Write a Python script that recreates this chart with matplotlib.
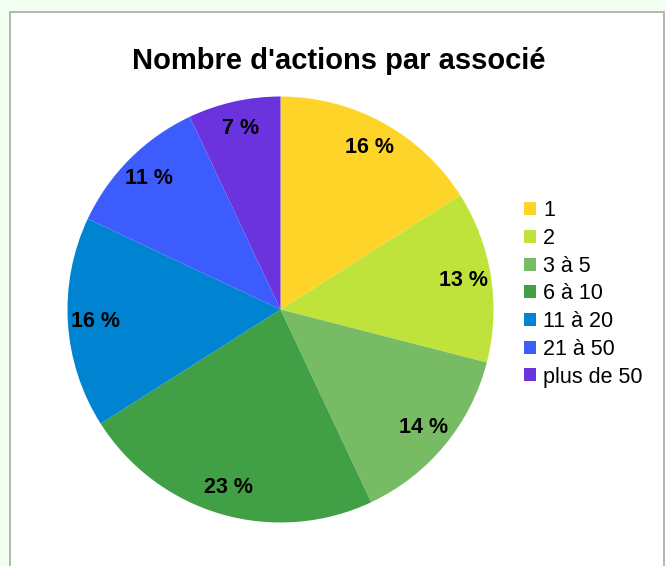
import matplotlib

matplotlib.use("Agg")
import matplotlib.pyplot as plt
from matplotlib.patches import Rectangle

# data
categories = ["1", "2", "3 à 5", "6 à 10", "11 à 20", "21 à 50", "plus de 50"]
shares = [16, 13, 14, 23, 16, 11, 7]
colors = ["#ffd428", "#c0e33c", "#77bc65", "#41a046", "#0084d1", "#3d5cfe", "#6a33dd"]
title = "Nombre d'actions par associé"

W, H = 669, 566
fig = plt.figure(figsize=(W / 100, H / 100), dpi=100, facecolor="#f0fff0")

# white panel with a grey frame
fig.patches.append(Rectangle((10 / W, -0.01), 654 / W, (H - 12) / H + 0.01,
                             transform=fig.transFigure, facecolor="white",
                             edgecolor="#a8a8a8", linewidth=1.2, zorder=-2))
fig.patches.append(Rectangle((665 / W, 0), 4 / W, 1, transform=fig.transFigure,
                             facecolor="white", edgecolor="none", zorder=-2))

cx, cy, r = 280.5, 309.5, 213
ax = fig.add_axes([(cx - r) / W, (H - cy - r) / H, 2 * r / W, 2 * r / H])
ax.set_zorder(2)
ax.patch.set_visible(False)
wedges, texts, autotexts = ax.pie(
    shares,
    colors=colors,
    startangle=90,
    counterclock=False,
    autopct=lambda p: f"{p:.0f} %",
    pctdistance=0.87,
    wedgeprops={"linewidth": 0},
    textprops={"fontsize": 15.5, "fontweight": "bold", "family": ["Liberation Sans Narrow", "Liberation Sans", "DejaVu Sans"]},
)
ax.set_xlim(-1, 1)
ax.set_ylim(-1, 1)
ax.axis("off")

fig.text(339 / W, 1 - 61 / H, title, ha="center", va="center",
         fontsize=21, fontweight="bold", family=["Liberation Sans", "DejaVu Sans"])

leg = fig.legend(
    wedges,
    categories,
    loc="center left",
    bbox_to_anchor=(524 / W, 1 - 294 / H),
    frameon=False,
    borderpad=0,
    borderaxespad=0,
    handlelength=0.56,
    handleheight=0.56,
    handletextpad=0.33,
    labelspacing=0.31,
    prop={"family": ["Liberation Sans", "DejaVu Sans"], "size": 15.5},
)
leg.set_zorder(3)

fig.savefig("out.png", dpi=100, facecolor=fig.get_facecolor())
